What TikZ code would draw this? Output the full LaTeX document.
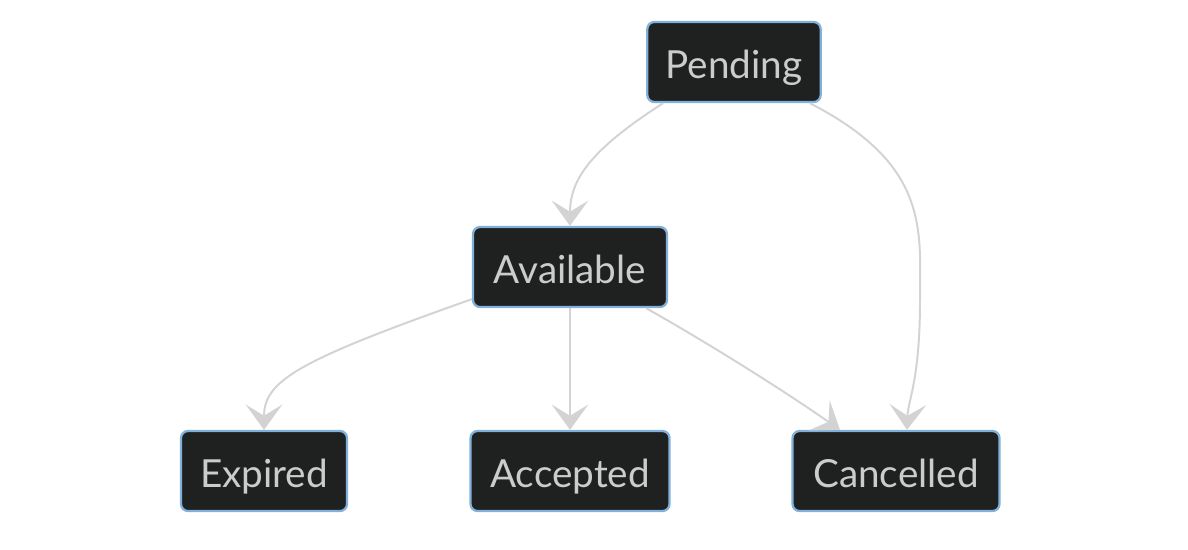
\documentclass[tikz,border=0pt]{standalone}
\usepackage{fontspec}
\setmainfont{Lato}
\usepackage{tikz}
\usetikzlibrary{arrows.meta, positioning}
\usepackage{xcolor}
\definecolor{statefill}{HTML}{1F2020}
\definecolor{stateborder}{HTML}{81B1DB}
\definecolor{statetext}{HTML}{CCCCCC}
\definecolor{edgecolor}{HTML}{D3D3D3}

\begin{document}
\begin{tikzpicture}[
    x=0.025cm, y=-0.025cm,
    state/.style={rectangle, rounded corners=5pt, draw=stateborder, line width=1.6pt, fill=statefill, text=statetext, minimum height=2.0cm, text height=24pt, text depth=0pt, inner xsep=13pt, font=\fontsize{27.5}{32}\selectfont},
    arrow/.style={-{Stealth[length=18pt, width=26pt, inset=8pt]}, line width=1.4pt, edgecolor},
]
\useasboundingbox (0,0) rectangle (1188,549);

% States
\node[state, minimum width=172*0.025cm] (pending) at (734, 62) {Pending};
\node[state, minimum width=194*0.025cm] (available) at (570, 267) {Available};
\node[state, minimum width=166*0.025cm] (expired) at (264, 471) {Expired};
\node[state, minimum width=199*0.025cm] (accepted) at (570, 471) {Accepted};
\node[state, minimum width=207*0.025cm] (cancelled) at (896, 471) {Cancelled};

% Transitions
\draw[arrow] (pending.south west) ++(17,0) .. controls (590,150) and (570,180) .. (available.north);
\draw[arrow] (pending.south east) ++(-12,0) .. controls (930,165) and (920,230) .. (920,300) .. controls (920,380) and (908,400) .. (cancelled.north -| 907,0);
\draw[arrow] (available.south west) ++(0,-9) .. controls (300,360) and (264,380) .. (expired.north);
\draw[arrow] (available) -- (accepted);
\draw[arrow] (available.south east) ++(-22,0) .. controls (720,350) and (790,395) .. (cancelled.north -| 840,0);

\end{tikzpicture}
\end{document}
